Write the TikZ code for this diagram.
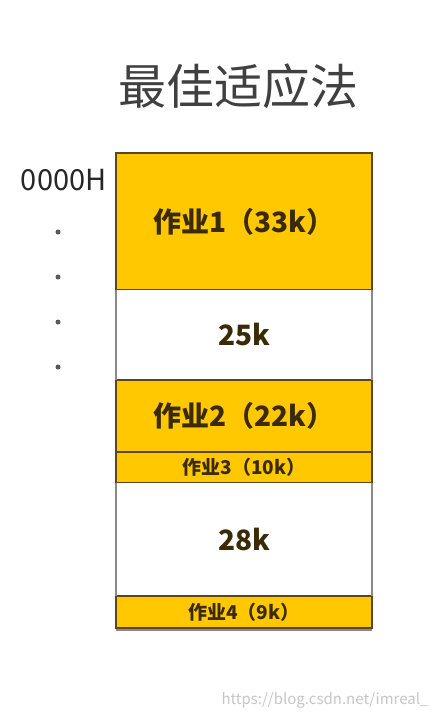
\documentclass[tikz,border=0pt]{standalone}
\usepackage{fontspec}
\setmainfont{Noto Sans CJK SC}
\usetikzlibrary{positioning}
\definecolor{jobyellow}{HTML}{FFC800}
\definecolor{jobtext}{HTML}{3A2A05}
\definecolor{edgebrown}{HTML}{5A4620}
\definecolor{holeedge}{HTML}{8A8A8A}

\begin{document}
\begin{tikzpicture}[x=1pt, y=-1pt, node distance=0pt,
    job/.style={draw=edgebrown, fill=jobyellow, line width=1.2pt, minimum width=256pt,
      inner sep=0pt, outer sep=0pt, text=jobtext},
    hole/.style={fill=white, minimum width=256pt, inner sep=0pt, outer sep=0pt, text=jobtext},
    bigtext/.style={font=\fontsize{28}{28}\selectfont\bfseries},
    smalltext/.style={font=\fontsize{19}{19}\selectfont\bfseries},
    dot/.style={circle, fill=black!65, inner sep=0pt, minimum size=5pt}]
  \useasboundingbox[fill=white] (0,0) rectangle (441,715);

  \node[text=black!75, font=\fontsize{48}{48}\selectfont] (title) at (238,86) {最佳适应法};

  \node[job, bigtext, minimum height=137pt, anchor=north west] (j1) at (116,153) {作业1（33k）};
  \node[hole, bigtext, minimum height=90pt, below=of j1] (h1) {25k};
  \node[job, bigtext, minimum height=72pt, below=of h1] (j2) {作业2（22k）};
  \node[job, smalltext, minimum height=31pt, below=of j2] (j3) {作业3（10k）};
  \node[hole, bigtext, minimum height=113pt, below=of j3] (h2) {28k};
  \node[job, smalltext, minimum height=32pt, below=of h2] (j4) {作业4（9k）};

  \draw[holeedge, line width=1.2pt] (h1.north west) -- (h1.south west)
    (h1.north east) -- (h1.south east)
    (h2.north west) -- (h2.south west)
    (h2.north east) -- (h2.south east);
  \draw[holeedge, line width=1.5pt] ([yshift=-2pt]j4.south west) -- ([yshift=-2pt]j4.south east);

  \node[text=black!85, font=\fontsize{29}{29}\selectfont, anchor=east] (addr) at (110,180) {0000H};
  \foreach \i/\y in {1/232, 2/277, 3/322, 4/367}
    \node[dot] (d\i) at (58,\y) {};

  \node[text=black!22, font=\fontsize{15}{15}\selectfont, anchor=east] (mark) at (432,700) {https://blog.csdn.net/imreal\_};
\end{tikzpicture}
\end{document}
